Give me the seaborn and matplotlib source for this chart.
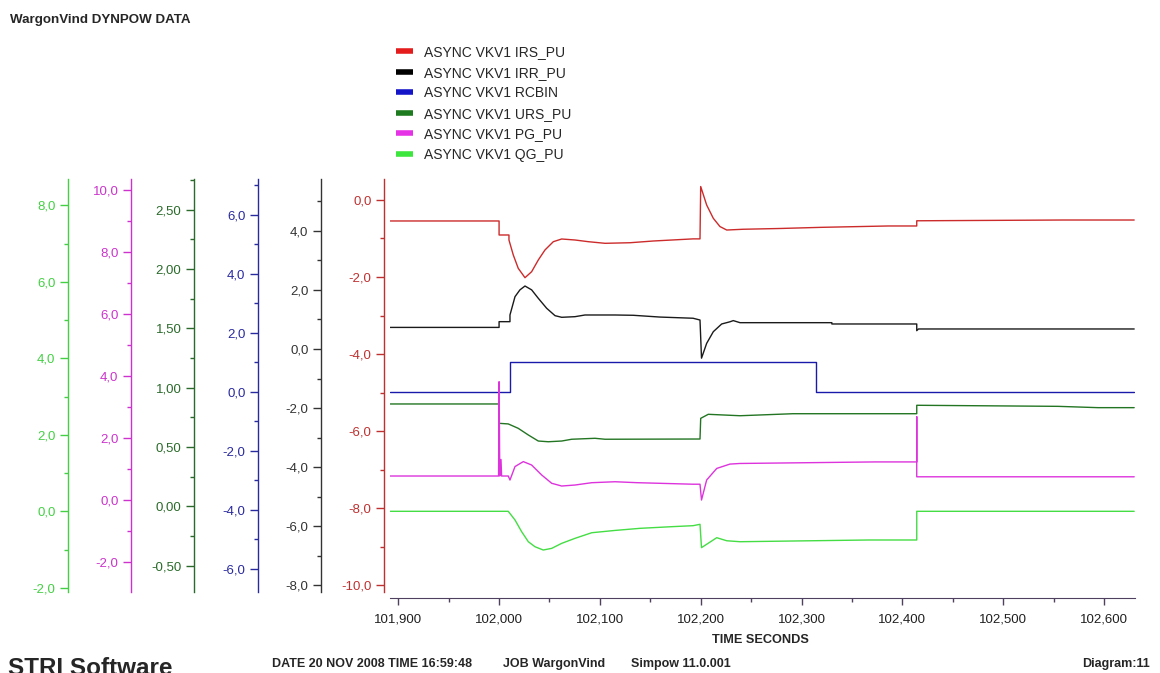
import matplotlib
matplotlib.use('Agg')
import matplotlib.pyplot as plt
import seaborn as sns
from matplotlib.ticker import MultipleLocator, FuncFormatter
from matplotlib.lines import Line2D

# ---- data (time in seconds) ----
irs_t = [101.892, 102.000, 102.000, 102.0098, 102.0098, 102.0141, 102.0190, 102.0257, 102.0323,
         102.0389, 102.0455, 102.0538, 102.0621, 102.0753, 102.0885, 102.1051, 102.1299, 102.1530,
         102.1924, 102.1993, 102.2000, 102.2059, 102.2125, 102.2191, 102.2258, 102.2423, 102.2787,
         102.3200, 102.3858, 102.4143, 102.4143, 102.5594, 102.630]
irs_v = [-0.545, -0.545, -0.909, -0.909, -1.039, -1.429, -1.774, -2.018, -1.862,
         -1.558, -1.299, -1.083, -1.013, -1.039, -1.083, -1.125, -1.11, -1.065,
         -1.01, -1.01, 0.35, -0.13, -0.476, -0.69, -0.78, -0.76, -0.74,
         -0.71, -0.675, -0.675, -0.54, -0.52, -0.52]

irr_t = [101.892, 102.000, 102.000, 102.0108, 102.0108, 102.0158, 102.0207, 102.0257, 102.0323,
         102.0389, 102.0472, 102.0555, 102.0621, 102.0753, 102.0852, 102.1150, 102.1331, 102.1596,
         102.1924, 102.1993, 102.2008, 102.2059, 102.2125, 102.2208, 102.2290, 102.2323, 102.2390,
         102.3301, 102.3301, 102.4143, 102.4143, 102.4160, 102.630]
irr_v = [0.73, 0.73, 0.924, 0.924, 1.15, 1.77, 2.0, 2.13, 2.0,
         1.715, 1.377, 1.127, 1.072, 1.093, 1.15, 1.15, 1.14, 1.08,
         1.04, 0.98, -0.31, 0.19, 0.585, 0.846, 0.92, 0.96, 0.89,
         0.89, 0.846, 0.846, 0.62, 0.677, 0.677]

rcbin_t = [101.892, 102.0108, 102.0108, 102.3142, 102.3142, 102.630]
rcbin_v = [0.0, 0.0, 1.0, 1.0, 0.0, 0.0]

urs_t = [101.892, 102.000, 102.000, 102.0091, 102.0190, 102.0290, 102.0389, 102.0488, 102.0621,
         102.0720, 102.0951, 102.1051, 102.1993, 102.2000, 102.2075, 102.2390, 102.2916, 102.4143,
         102.4143, 102.5545, 102.5941, 102.630]
urs_v = [0.863, 0.863, 0.70, 0.695, 0.658, 0.602, 0.551, 0.545, 0.551,
         0.566, 0.574, 0.566, 0.568, 0.742, 0.776, 0.764, 0.781, 0.781,
         0.852, 0.843, 0.832, 0.832]

pg_t = [101.892, 101.9995, 102.0000, 102.0007, 102.0019, 102.0025, 102.0091, 102.0108, 102.0158,
        102.0240, 102.0323, 102.0423, 102.0522, 102.0621, 102.0753, 102.0919, 102.1150, 102.1365,
        102.1924, 102.1993, 102.2008, 102.2059, 102.2159, 102.2290, 102.2390, 102.3730, 102.4143,
        102.4143, 102.4143, 102.630]
pg_v = [0.775, 0.775, 3.82, 0.775, 1.31, 0.775, 0.775, 0.646, 1.08,
        1.24, 1.13, 0.807, 0.54, 0.452, 0.484, 0.559, 0.59, 0.56,
        0.51, 0.51, 0.0, 0.646, 1.02, 1.16, 1.18, 1.23, 1.23,
        2.69, 0.75, 0.75]

qg_t = [101.892, 102.0091, 102.0158, 102.0224, 102.0290, 102.0356, 102.0438, 102.0522, 102.0621,
        102.0753, 102.0919, 102.1150, 102.1398, 102.1728, 102.1924, 102.1993, 102.2008, 102.2159,
        102.2258, 102.2390, 102.3664, 102.4143, 102.4143, 102.630]
qg_v = [0.0, 0.0, -0.227, -0.534, -0.795, -0.926, -1.012, -0.969, -0.838,
        -0.707, -0.56, -0.50, -0.445, -0.40, -0.376, -0.34, -0.95, -0.69,
        -0.77, -0.795, -0.75, -0.75, 0.0, 0.0]

labels = ['ASYNC VKV1 IRS_PU', 'ASYNC VKV1 IRR_PU', 'ASYNC VKV1 RCBIN',
          'ASYNC VKV1 URS_PU', 'ASYNC VKV1 PG_PU', 'ASYNC VKV1 QG_PU']

sns.set_style('white')
plt.rcParams['font.family'] = ['Liberation Sans', 'DejaVu Sans']

W, H = 1160, 673
fig = plt.figure(figsize=(11.6, 6.73), dpi=100)
ax = fig.add_axes([390 / W, 1 - 592 / H, 745 / W, 413 / H])

px = 0.72  # pixels -> points at 100 dpi


def comma(nd):
    return FuncFormatter(lambda v, p: f"{v:.{nd}f}".replace('.', ','))


# (times, values, line colour, axis colour, ylim, major step, decimals, offset px)
series = [
    (irs_t, irs_v, '#CC2B2B', '#C03030', (-10.18, 0.545), 2, 1, 6),
    (irr_t, irr_v, '#1A1A1A', '#333333', (-8.22, 5.75), 2, 1, 69),
    (rcbin_t, rcbin_v, '#1A1AAA', '#2A2AA0', (-6.78, 7.22), 2, 1, 132),
    (urs_t, urs_v, '#237523', '#2A6A2A', (-0.72, 2.757), 0.5, 2, 196),
    (pg_t, pg_v, '#DD33DD', '#CC33CC', (-2.97, 10.365), 2, 1, 259),
    (qg_t, qg_v, '#44DD44', '#44D044', (-2.11, 8.69), 2, 1, 322),
]
legend_cols = ['#E51C1C', '#000000', '#1414C8', '#1E7A1E', '#E632E6', '#3CE63C']

axes = [ax]
for i in range(1, len(series)):
    axes.append(ax.twinx())

for a, (t, v, lc, ac, yl, step, nd, off) in zip(axes, series):
    sns.lineplot(x=t, y=v, ax=a, color=lc, estimator=None, sort=False, linewidth=1.0, legend=False)
    a.set_ylim(*yl)
    a.set_ylabel('')
    a.yaxis.set_ticks_position('left')
    a.yaxis.set_label_position('left')
    for s in ['top', 'right', 'bottom']:
        a.spines[s].set_visible(False)
    a.spines['left'].set_visible(True)
    a.spines['left'].set_position(('outward', off * px))
    a.spines['left'].set_color(ac)
    a.spines['left'].set_linewidth(1.0)
    a.yaxis.set_major_locator(MultipleLocator(step))
    a.yaxis.set_minor_locator(MultipleLocator(step / 2))
    a.yaxis.set_major_formatter(comma(nd))
    a.tick_params(axis='y', which='major', left=True, right=False, length=6, width=1,
                  color=ac, labelcolor=ac, labelsize=9.5, pad=3)
    a.tick_params(axis='y', which='minor', left=True, right=False, length=3, width=1, color=ac)

ax.spines['bottom'].set_visible(True)
ax.spines['bottom'].set_position(('outward', 6 * px))
ax.spines['bottom'].set_color('#504060')
ax.set_xlim(101.8918, 102.6308)
ax.xaxis.set_major_locator(MultipleLocator(0.1))
ax.xaxis.set_minor_locator(MultipleLocator(0.05))
ax.xaxis.set_major_formatter(comma(3))
ax.tick_params(axis='x', which='major', bottom=True, length=5, width=1, color='#504060',
               labelcolor='#202020', labelsize=9.5, pad=6)
ax.tick_params(axis='x', which='minor', bottom=True, length=3, width=1, color='#504060')
ax.set_xlabel('')

handles = [Line2D([], [], color=c, lw=4, solid_capstyle='butt') for c in legend_cols]
fig.legend(handles, labels, loc='upper left', bbox_to_anchor=(396 / W, 1 - 45 / H),
           frameon=False, fontsize=10, handlelength=1.2, handletextpad=0.85,
           labelspacing=0.47, borderpad=0, borderaxespad=0)

fig.text(10 / W, 1 - 20 / H, 'WargonVind DYNPOW DATA', fontsize=9.6, fontweight='bold', va='center')
fig.text(760 / W, 1 - 640 / H, 'TIME SECONDS', fontsize=9.2, fontweight='bold', ha='center', va='center')
fig.text(8 / W, 1 - 657 / H, 'STRI Software', fontsize=17.5, fontweight='bold', va='top')
fig.text(272 / W, 1 - 664 / H, 'DATE 20 NOV 2008 TIME 16:59:48', fontsize=9, fontweight='bold', va='center')
fig.text(503 / W, 1 - 664 / H, 'JOB WargonVind', fontsize=9, fontweight='bold', va='center')
fig.text(631 / W, 1 - 664 / H, 'Simpow 11.0.001', fontsize=9, fontweight='bold', va='center')
fig.text(1150 / W, 1 - 664 / H, 'Diagram:11', fontsize=9, fontweight='bold', ha='right', va='center')

fig.savefig('out.png', dpi=100)
